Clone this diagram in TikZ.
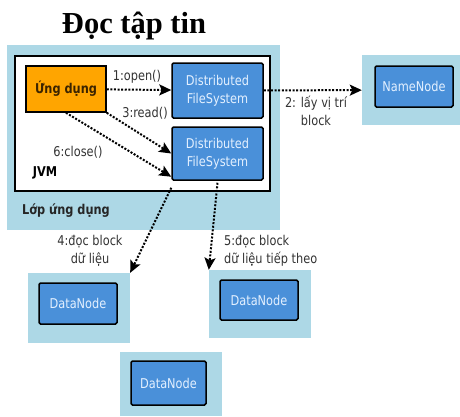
\documentclass[tikz,border=0pt]{standalone}
\usepackage{fontspec}
\setmainfont{Liberation Serif}
\newfontfamily\dvs[FakeStretch=0.84]{DejaVu Sans}
\usetikzlibrary{arrows.meta}
\definecolor{panel}{HTML}{ADD8E6}
\definecolor{hblue}{HTML}{4A90D9}
\definecolor{apporange}{HTML}{FFA500}
\definecolor{boxtext}{HTML}{E3F0FF}
\definecolor{labeltext}{HTML}{333333}
\definecolor{apptext}{HTML}{3B2400}
\begin{document}
\begin{tikzpicture}[x=1pt,y=-1pt,
  panelbox/.style={fill=panel, draw=none, inner sep=0pt},
  hdfsbox/.style={fill=hblue, draw=black, line width=1.5pt, rounded corners=1.5pt,
    text=boxtext, font=\dvs\fontsize{13.5}{18}\selectfont, align=center, inner sep=0pt},
  msg/.style={font=\dvs\fontsize{13.5}{18}\selectfont, text=labeltext, align=center, inner sep=0pt},
  call/.style={line width=2pt, dash pattern=on 2pt off 1.6pt,
    -{Stealth[length=12pt,width=11pt,inset=2.5pt]}},
]
\useasboundingbox (0,0) rectangle (460,416);

% title
\node[font=\bfseries\fontsize{30.5}{34}\selectfont, anchor=base] (title) at (134,33) {Đọc tập tin};

% application layer with the JVM inside
\node[panelbox, minimum width=273pt, minimum height=185pt] (layer) at (143.5,137.5) {};
\node[fill=white, draw=black, line width=1.5pt, inner sep=0pt,
      minimum width=255pt, minimum height=135pt] (jvm) at (142.5,123.5) {};
\node[fill=apporange, draw=black, line width=1.5pt, inner sep=0pt,
      minimum width=80pt, minimum height=46pt, text=apptext,
      font=\dvs\bfseries\fontsize{13.5}{16}\selectfont] (app) at (66,89) {Ứng dụng};
\node[hdfsbox, minimum width=91pt, minimum height=55pt] (dfs1) at (217.5,90.5) {Distributed\\FileSystem};
\node[hdfsbox, minimum width=91pt, minimum height=53pt] (dfs2) at (217.5,153.5) {Distributed\\FileSystem};
\node[font=\dvs\bfseries\fontsize{13.5}{16}\selectfont, inner sep=0pt] (jvmlabel) at (45,173) {JVM};
\node[font=\dvs\bfseries\fontsize{13.5}{16}\selectfont, text=black!85, inner sep=0pt] (layerlabel) at (66,211) {Lớp ứng dụng};

% name node
\node[panelbox, minimum width=98pt, minimum height=70pt] (nnpanel) at (411,90) {};
\node[hdfsbox, minimum width=78pt, minimum height=41pt] (nn) at (414,86.5) {NameNode};

% data nodes
\node[panelbox, minimum width=102pt, minimum height=70pt] (dn1panel) at (79,308) {};
\node[hdfsbox, minimum width=78pt, minimum height=41pt] (dn1) at (78,303.5) {DataNode};
\node[panelbox, minimum width=102pt, minimum height=68pt] (dn2panel) at (260,304) {};
\node[hdfsbox, minimum width=78pt, minimum height=40pt] (dn2) at (259,300) {DataNode};
\node[panelbox, minimum width=102pt, minimum height=64pt] (dn3panel) at (171,384) {};
\node[hdfsbox, minimum width=75pt, minimum height=44pt] (dn3) at (168.5,383) {DataNode};

% calls
\draw[call] (app) -- (dfs1);
\draw[call] (dfs1) -- (nnpanel);
\draw[call] (app.south east) -- (dfs2.west);
\draw[call] (app.south) -- ([yshift=4pt]dfs2.south west);
\draw[call] ([yshift=-7pt]dfs2.south west) -- (dn1panel.north east);
\draw[call] ([yshift=-2pt]dfs2.south) -- (dn2panel.north west);

% call labels
\node[msg] (l1) at (137,77) {1:open()};
\node[msg] (l2) at (316,111) {2: lấy vị trí\\block};
\node[msg] (l3) at (145,113) {3:read()};
\node[msg] (l6) at (78,152) {6:close()};
\node[msg] (l4) at (90,251) {4:đọc block\\dữ liệu};
\node[msg, align=left, anchor=west] (l5) at (224,251) {5:đọc block\\dữ liệu tiếp theo};
\end{tikzpicture}
\end{document}
